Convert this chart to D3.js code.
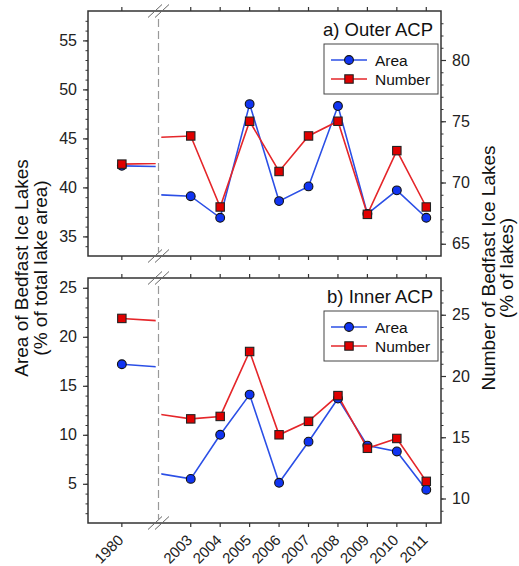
<!DOCTYPE html>
<html>
<head>
<meta charset="utf-8">
<script src="https://cdn.jsdelivr.net/npm/d3@7"></script>
<style>
  html, body { margin: 0; padding: 0; background: #fff; }
  svg { display: block; font-family: "Liberation Sans", Arial, sans-serif; }
</style>
</head>
<body>
<svg id="chart" width="519" height="566"></svg>
<script>
// ---- data ----
const years = [1980, 2003, 2004, 2005, 2006, 2007, 2008, 2009, 2010, 2011];
const yearLabels = ["1980", "2003", "2004", "2005", "2006", "2007", "2008", "2009", "2010", "2011"];
const outerArea   = [42.2, 39.1, 36.9, 48.5, 38.6, 40.1, 48.3, 37.3, 39.7, 36.9];
const outerNumber = [71.5, 73.8, 68.0, 75.0, 70.9, 73.8, 75.0, 67.4, 72.6, 68.0];
const innerArea   = [17.2, 5.5, 10.0, 14.1, 5.1, 9.3, 13.7, 8.9, 8.3, 4.4];
const innerNumber = [24.7, 16.5, 16.7, 22.0, 15.2, 16.3, 18.4, 14.1, 14.9, 11.4];
const seriesNames = ["Area", "Number"];
const panelTitles = ["a) Outer ACP", "b) Inner ACP"];
const leftTicksOuter = [35, 40, 45, 50, 55];
const rightTicksOuter = [65, 70, 75, 80];
const leftTicksInner = [5, 10, 15, 20, 25];
const rightTicksInner = [10, 15, 20, 25];

// ---- layout ----
const svg = d3.select("#chart");
const X0 = 88, X1 = 441, BREAK_L = 155.7, BREAK_R = 161.3, BREAK_C = 158.5;
const xL = d3.scaleLinear().domain([1979.5, 1980.5]).range([X0, BREAK_L]);
const xR = d3.scaleLinear().domain([2002, 2011.5]).range([BREAK_R, X1]);
const xPos = y => (y < 1990 ? xL(y) : xR(y));

const AXIS = "#333";
const BLUE_LINE = "#2b4fe6", BLUE_FILL = "#1034f2";
const RED_LINE = "#e5262a", RED_FILL = "#e00000";
const FONT = "'Liberation Sans', Arial, sans-serif";
const R = 4.4, SQ = 8.4;

const panels = [
  { top: 11, bottom: 256, left: [33, 58], right: [64, 84], lt: leftTicksOuter, rt: rightTicksOuter,
    area: outerArea, number: outerNumber, title: panelTitles[0], xlabels: false },
  { top: 278, bottom: 523, left: [1, 26], right: [8, 28], lt: leftTicksInner, rt: rightTicksInner,
    area: innerArea, number: innerNumber, title: panelTitles[1], xlabels: true }
];

const defs = svg.append("defs");

panels.forEach((p, pi) => {
  const g = svg.append("g");
  const yL = d3.scaleLinear().domain(p.left).range([p.bottom, p.top]);
  const yRs = d3.scaleLinear().domain(p.right).range([p.bottom, p.top]);

  // clip paths for the two x segments
  defs.append("clipPath").attr("id", "cl" + pi).append("rect")
    .attr("x", X0).attr("y", p.top).attr("width", BREAK_L - X0).attr("height", p.bottom - p.top);
  defs.append("clipPath").attr("id", "cr" + pi).append("rect")
    .attr("x", BREAK_R).attr("y", p.top).attr("width", X1 - BREAK_R).attr("height", p.bottom - p.top);

  // dashed break line
  g.append("line").attr("x1", BREAK_C).attr("x2", BREAK_C)
    .attr("y1", p.top + 8).attr("y2", p.bottom - 4)
    .attr("stroke", "#999").attr("stroke-width", 1.2).attr("stroke-dasharray", "8,4");

  // left axis
  const minorL = d3.range(Math.ceil(p.left[0]), Math.floor(p.left[1]) + 1).filter(v => v > p.left[0] && v < p.left[1]);
  g.append("g").attr("transform", `translate(${X0},0)`)
    .call(d3.axisLeft(yL).tickValues(minorL).tickSize(2.5).tickFormat(""))
    .call(a => a.select(".domain").remove())
    .call(a => a.selectAll("line").attr("stroke", AXIS));
  g.append("g").attr("transform", `translate(${X0},0)`)
    .call(d3.axisLeft(yL).tickValues(p.lt).tickSize(5).tickPadding(6))
    .call(a => a.select(".domain").remove())
    .call(a => a.selectAll("line").attr("stroke", AXIS).attr("stroke-width", 1.2))
    .call(a => a.selectAll("text").attr("fill", "#222").style("font-size", "16px")
      .style("font-family", FONT));

  // right axis
  const minorR = d3.range(Math.ceil(p.right[0]), Math.floor(p.right[1]) + 1).filter(v => v > p.right[0] && v < p.right[1]);
  g.append("g").attr("transform", `translate(${X1},0)`)
    .call(d3.axisRight(yRs).tickValues(minorR).tickSize(2.5).tickFormat(""))
    .call(a => a.select(".domain").remove())
    .call(a => a.selectAll("line").attr("stroke", AXIS));
  g.append("g").attr("transform", `translate(${X1},0)`)
    .call(d3.axisRight(yRs).tickValues(p.rt).tickSize(5).tickPadding(6))
    .call(a => a.select(".domain").remove())
    .call(a => a.selectAll("line").attr("stroke", AXIS).attr("stroke-width", 1.2))
    .call(a => a.selectAll("text").attr("fill", "#222").style("font-size", "16px")
      .style("font-family", FONT));

  // top & bottom x ticks
  [[p.top, -4], [p.bottom, 4]].forEach(([yy, d]) => {
    g.selectAll(null).data(years).enter().append("line")
      .attr("x1", d => xPos(d)).attr("x2", d => xPos(d))
      .attr("y1", yy).attr("y2", yy + d)
      .attr("stroke", AXIS).attr("stroke-width", 1.2);
  });

  // frame
  g.append("rect").attr("x", X0).attr("y", p.top).attr("width", X1 - X0).attr("height", p.bottom - p.top)
    .attr("fill", "none").attr("stroke", AXIS).attr("stroke-width", 1.5);

  // break marks
  [p.top, p.bottom].forEach(yy => {
    [-3.5, 3.5].forEach(off => {
      g.append("line")
        .attr("x1", BREAK_C + off - 7).attr("y1", yy + 6.5)
        .attr("x2", BREAK_C + off + 7).attr("y2", yy - 6.5)
        .attr("stroke", "#666").attr("stroke-width", 1);
    });
  });

  // series
  const series = [
    { vals: p.area, y: yL, line: BLUE_LINE, fill: BLUE_FILL, shape: "circle" },
    { vals: p.number, y: yRs, line: RED_LINE, fill: RED_FILL, shape: "square" }
  ];
  series.forEach(s => {
    const pts = years.map((yr, i) => [yr, s.vals[i]]);
    [["cl", xL], ["cr", xR]].forEach(([cid, xs]) => {
      const ln = d3.line().x(d => xs(d[0])).y(d => s.y(d[1]));
      g.append("path").attr("d", ln(pts)).attr("fill", "none")
        .attr("stroke", s.line).attr("stroke-width", 1.6)
        .attr("clip-path", `url(#${cid}${pi})`);
    });
  });
  series.forEach(s => {
    const pts = years.map((yr, i) => [yr, s.vals[i]]);
    if (s.shape === "circle") {
      g.selectAll(null).data(pts).enter().append("circle")
        .attr("cx", d => xPos(d[0])).attr("cy", d => s.y(d[1])).attr("r", R)
        .attr("fill", s.fill).attr("stroke", "#111").attr("stroke-width", 1.1);
    } else {
      g.selectAll(null).data(pts).enter().append("rect")
        .attr("x", d => xPos(d[0]) - SQ / 2).attr("y", d => s.y(d[1]) - SQ / 2)
        .attr("width", SQ).attr("height", SQ)
        .attr("fill", s.fill).attr("stroke", "#222").attr("stroke-width", 1.1);
    }
  });

  // panel title
  g.append("text").attr("x", X1 - 8).attr("y", p.top + 25)
    .attr("text-anchor", "end").attr("fill", "#111").style("font-size", "18.5px")
    .text(p.title);

  // legend
  const lgx = 324, lgy = p.top + 33;
  const lg = g.append("g");
  lg.append("rect").attr("x", lgx).attr("y", lgy).attr("width", 114).attr("height", 50)
    .attr("fill", "#fff").attr("stroke", "#444").attr("stroke-width", 1);
  series.forEach((s, i) => {
    const ly = lgy + 16 + i * 19;
    lg.append("line").attr("x1", lgx + 7).attr("x2", lgx + 43).attr("y1", ly).attr("y2", ly)
      .attr("stroke", s.line).attr("stroke-width", 1.6);
    if (s.shape === "circle") {
      lg.append("circle").attr("cx", lgx + 25).attr("cy", ly).attr("r", R)
        .attr("fill", s.fill).attr("stroke", "#111").attr("stroke-width", 1.1);
    } else {
      lg.append("rect").attr("x", lgx + 25 - SQ / 2).attr("y", ly - SQ / 2).attr("width", SQ).attr("height", SQ)
        .attr("fill", s.fill).attr("stroke", "#222").attr("stroke-width", 1.1);
    }
    lg.append("text").attr("x", lgx + 51).attr("y", ly + 5.5).attr("fill", "#111")
      .style("font-size", "15.5px").text(seriesNames[i]);
  });

  // x labels
  if (p.xlabels) {
    g.selectAll(null).data(years).enter().append("text")
      .attr("transform", (d) => `translate(${xPos(d) + 2.5},${p.bottom + 18}) rotate(-45)`)
      .attr("text-anchor", "end").attr("fill", "#222").style("font-size", "15px")
      .text((d, i) => yearLabels[i]);
  }
});

// axis titles
const midY = 268;
const lt = svg.append("text").attr("transform", `translate(28,${midY}) rotate(-90)`)
  .attr("text-anchor", "middle").attr("fill", "#111").style("font-size", "19px");
lt.append("tspan").attr("x", 0).attr("dy", 0).text("Area of Bedfast Ice Lakes");
lt.append("tspan").attr("x", 0).attr("dy", 18.5).text("(% of total lake area)");

const rt = svg.append("text").attr("transform", `translate(495,${midY}) rotate(-90)`)
  .attr("text-anchor", "middle").attr("fill", "#111").style("font-size", "19px");
rt.append("tspan").attr("x", 0).attr("dy", 0).text("Number of Bedfast Ice Lakes");
rt.append("tspan").attr("x", 0).attr("dy", 18).text("(% of lakes)");
</script>
</body>
</html>
